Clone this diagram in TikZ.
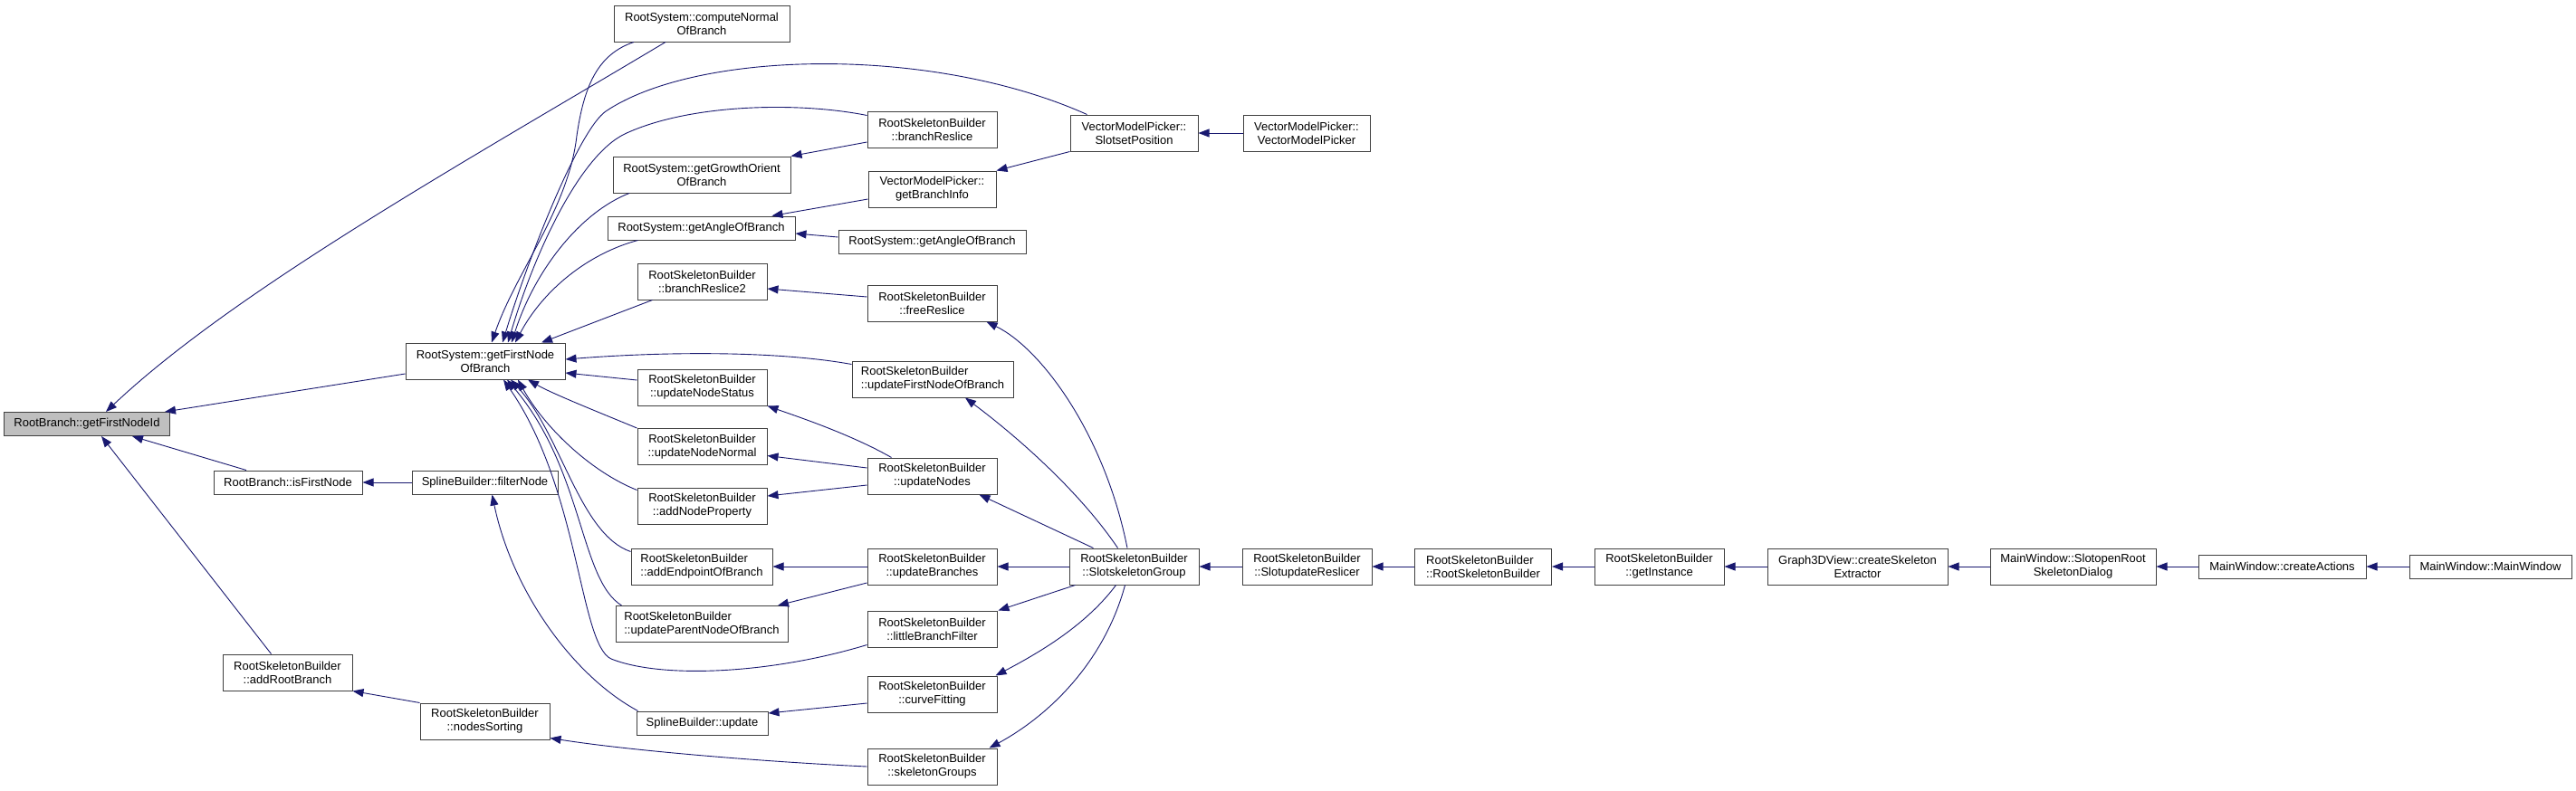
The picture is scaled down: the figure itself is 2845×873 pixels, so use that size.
\documentclass[tikz,border=0pt]{standalone}
\usepackage{fontspec}
\setmainfont{Liberation Sans}
\usetikzlibrary{arrows.meta}
\definecolor{edgec}{HTML}{191970}
\definecolor{boxc}{HTML}{404040}
\definecolor{rootfill}{HTML}{BFBFBF}
\begin{document}
\begin{tikzpicture}[x=1pt,y=-1pt,
  font=\fontsize{13}{15}\selectfont,
  fn/.style={draw=boxc, line width=1pt, fill=white, inner sep=0pt, align=center, minimum height=40pt},
  fnone/.style={fn, minimum height=26pt},
  call/.style={draw=edgec, line width=0.9pt, -{Triangle[length=12pt,width=9pt]}}]
\useasboundingbox (0,0) rectangle (2845,873);
\fill[white] (0,0) rectangle (2845,873);
% nodes
\node[fnone, fill=rootfill, minimum width=183pt] (fid) at (96,468.5) {RootBranch::getFirstNodeId};
\node[fnone, minimum width=164pt] (isf) at (318,533) {RootBranch::isFirstNode};
\node[fnone, minimum width=161pt] (fnode) at (535.5,533) {SplineBuilder::filterNode};
\node[fn, minimum width=143pt] (arb) at (317.5,743) {RootSkeletonBuilder\\::addRootBranch};
\node[fn, minimum width=143pt] (nsort) at (535.5,797) {RootSkeletonBuilder\\::nodesSorting};
\node[fn, minimum width=176pt] (gfnob) at (536,399) {RootSystem::getFirstNode\\OfBranch};
\node[fn, minimum width=194pt] (cn) at (775,26) {RootSystem::computeNormal\\OfBranch};
\node[fn, minimum width=143pt] (br) at (1029.5,143) {RootSkeletonBuilder\\::branchReslice};
\node[fn, minimum width=141pt] (sp) at (1252.5,147) {VectorModelPicker::\\SlotsetPosition};
\node[fn, minimum width=140pt] (vmp) at (1443,147) {VectorModelPicker::\\VectorModelPicker};
\node[fn, minimum width=196pt] (ggo) at (775,193) {RootSystem::getGrowthOrient\\OfBranch};
\node[fn, minimum width=141pt] (gbi) at (1029.5,209) {VectorModelPicker::\\getBranchInfo};
\node[fnone, minimum width=207pt] (gaL) at (774.5,252) {RootSystem::getAngleOfBranch};
\node[fnone, minimum width=207pt] (gaR) at (1029.5,267) {RootSystem::getAngleOfBranch};
\node[fn, minimum width=143pt] (br2) at (775.5,311) {RootSkeletonBuilder\\::branchReslice2};
\node[fn, minimum width=143pt] (fr) at (1029.5,335) {RootSkeletonBuilder\\::freeReslice};
\node[fn, minimum width=178pt, align=left] (ufn) at (1030,419) {RootSkeletonBuilder\\::updateFirstNodeOfBranch};
\node[fn, minimum width=143pt] (uns) at (775.5,428) {RootSkeletonBuilder\\::updateNodeStatus};
\node[fn, minimum width=143pt] (unn) at (775.5,493.5) {RootSkeletonBuilder\\::updateNodeNormal};
\node[fn, minimum width=143pt] (un) at (1029.5,526) {RootSkeletonBuilder\\::updateNodes};
\node[fn, minimum width=143pt] (anp) at (775.5,559) {RootSkeletonBuilder\\::addNodeProperty};
\node[fn, minimum width=156pt, align=left] (aeb) at (775,626) {RootSkeletonBuilder\\::addEndpointOfBranch};
\node[fn, minimum width=143pt] (ub) at (1029.5,626) {RootSkeletonBuilder\\::updateBranches};
\node[fn, minimum width=143pt] (ssg) at (1252.5,626) {RootSkeletonBuilder\\::SlotskeletonGroup};
\node[fn, minimum width=190pt, align=left] (upn) at (775,689.5) {RootSkeletonBuilder\\::updateParentNodeOfBranch};
\node[fn, minimum width=143pt] (lbf) at (1029.5,695) {RootSkeletonBuilder\\::littleBranchFilter};
\node[fn, minimum width=143pt] (cf) at (1029.5,767) {RootSkeletonBuilder\\::curveFitting};
\node[fnone, minimum width=145pt] (upd) at (775.5,799) {SplineBuilder::update};
\node[fn, minimum width=143pt] (sg) at (1029.5,847) {RootSkeletonBuilder\\::skeletonGroups};
\node[fn, minimum width=143pt] (ssu) at (1443.5,626) {RootSkeletonBuilder\\::SlotupdateReslicer};
\node[fn, minimum width=151pt, align=left] (rsb) at (1638,626) {RootSkeletonBuilder\\::RootSkeletonBuilder};
\node[fn, minimum width=143pt] (gi) at (1832.5,626) {RootSkeletonBuilder\\::getInstance};
\node[fn, minimum width=199pt] (cse) at (2051.5,626) {Graph3DView::createSkeleton\\Extractor};
\node[fn, minimum width=183pt] (sord) at (2289.5,626) {MainWindow::SlotopenRoot\\SkeletonDialog};
\node[fnone, minimum width=185pt] (ca) at (2520.5,626) {MainWindow::createActions};
\node[fnone, minimum width=179pt] (mw) at (2750.5,626) {MainWindow::MainWindow};
% edges into getFirstNodeId
\draw[call] ([xshift=-40pt]cn.south) .. controls (520,175) and (260,320) .. ([xshift=21pt]fid.north);
\draw[call] ([yshift=-14pt]gfnob.west) -- ([xshift=-6pt]fid.north east);
\draw[call] ([xshift=-46pt]isf.north) -- ([xshift=50pt]fid.south);
\draw[call] ([xshift=-18pt]arb.north) -- ([xshift=16pt]fid.south);
\draw[call] (fnode.west) -- (isf.east);
\draw[call] (nsort.north west) -- (arb.south east);
\draw[call] ([xshift=2pt]upd.north west) .. controls (630,745) and (565,650) .. ([xshift=8pt]fnode.south);
\draw[call] (sg.west) .. controls (850,842) and (700,830) .. ([yshift=2pt]nsort.south east);
% edges into getFirstNodeOfBranch, top
\draw[call] ([xshift=-75pt]cn.south) .. controls (660,60) and (645,95) .. (637,150) .. controls (628,230) and (570,300) .. ([xshift=7pt]gfnob.north);
\draw[call] ([xshift=-52pt]sp.north) .. controls (1030,50) and (770,55) .. (669,123) .. controls (640,143) and (585,280) .. ([xshift=19pt]gfnob.north);
\draw[call] ([yshift=-5pt]br.north west) .. controls (880,112) and (760,115) .. (690,148) .. controls (640,172) and (590,280) .. ([xshift=25pt]gfnob.north);
\draw[call] ([xshift=-80pt]ggo.south) .. controls (640,235) and (590,300) .. ([xshift=29pt]gfnob.north);
\draw[call] ([xshift=-70pt]gaL.south) .. controls (650,280) and (600,320) .. ([xshift=33pt]gfnob.north);
\draw[call] ([xshift=-55pt]br2.south) -- ([xshift=62pt]gfnob.north);
% right side
\draw[call] ([yshift=-4pt]ufn.north west) .. controls (860,388) and (740,388) .. ([yshift=2pt]gfnob.east);
\draw[call] ([yshift=8pt]uns.west) -- ([yshift=-13pt]gfnob.east);
% bottom
\draw[call] (unn.north west) .. controls (660,455) and (610,435) .. ([xshift=47pt]gfnob.south);
\draw[call] ([yshift=-3pt]anp.north west) .. controls (650,520) and (600,470) .. ([xshift=36pt]gfnob.south);
\draw[call] ([yshift=-4pt]aeb.north west) .. controls (640,590) and (620,480) .. ([xshift=28pt]gfnob.south);
\draw[call] ([xshift=7pt]upn.north west) .. controls (640,640) and (645,520) .. ([xshift=24pt]gfnob.south);
\draw[call] ([yshift=3pt]lbf.south west) .. controls (850,745) and (730,750) .. (675,728) .. controls (640,712) and (640,540) .. ([xshift=20pt]gfnob.south);
% other edges
\draw[call] (sp.south west) -- (gbi.north east);
\draw[call] (vmp.west) -- (sp.east);
\draw[call] ([yshift=-11pt]gbi.west) -- ([xshift=78pt]gaL.north);
\draw[call] ([yshift=5pt]gaR.west) -- ([yshift=-6pt]gaL.east);
\draw[call] ([yshift=-14pt]br.west) -- (ggo.north east);
\draw[call] ([yshift=7pt]fr.west) -- ([yshift=-8pt]br2.east);
\draw[call] ([xshift=-7.5pt]ssg.north) .. controls (1220,480) and (1150,385) .. ([xshift=60pt]fr.south);
\draw[call] ([xshift=-18pt]ssg.north) .. controls (1190,540) and (1120,480) .. ([xshift=36pt]ufn.south);
\draw[call] ([xshift=-45pt]ssg.north) -- ([xshift=52pt]un.south);
\draw[call] ([xshift=-45pt]un.north) .. controls (940,480) and (880,460) .. (uns.south east);
\draw[call] ([yshift=9pt]un.west) -- ([yshift=-10pt]unn.east);
\draw[call] ([yshift=-10pt]un.west) -- ([yshift=11pt]anp.east);
\draw[call] (ssg.west) -- (ub.east);
\draw[call] (ub.west) -- (aeb.east);
\draw[call] ([yshift=-18pt]ub.west) -- ([xshift=84pt]upn.north);
\draw[call] ([xshift=-65pt]ssg.south) -- ([xshift=73pt]lbf.north);
\draw[call] ([xshift=-20pt]ssg.south) .. controls (1200,690) and (1150,720) .. ([xshift=70pt]cf.north);
\draw[call] ([xshift=-10pt]ssg.south) .. controls (1220,730) and (1160,790) .. ([xshift=63pt]sg.north);
\draw[call] ([yshift=-10pt]cf.west) -- ([yshift=11pt]upd.east);
% horizontal chain
\draw[call] (ssu.west) -- (ssg.east);
\draw[call] (rsb.west) -- (ssu.east);
\draw[call] (gi.west) -- (rsb.east);
\draw[call] (cse.west) -- (gi.east);
\draw[call] (sord.west) -- (cse.east);
\draw[call] (ca.west) -- (sord.east);
\draw[call] (mw.west) -- (ca.east);
\end{tikzpicture}
\end{document}
